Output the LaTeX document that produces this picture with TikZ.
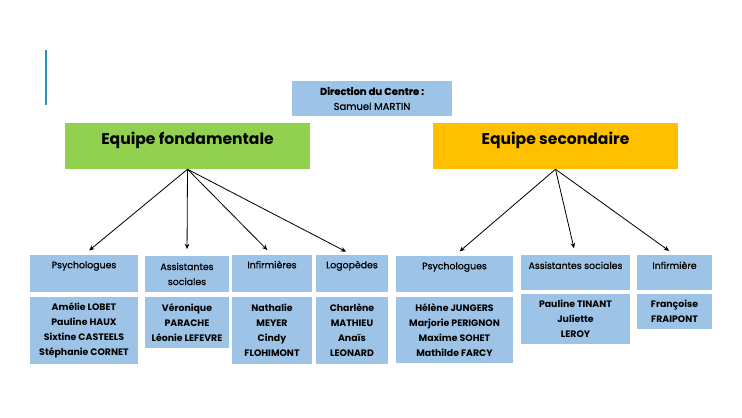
\documentclass[tikz,border=0pt]{standalone}
\usepackage{fontspec}
\setmainfont{Poppins}
\newfontfamily\medfont[FakeBold=0.6]{Poppins}
\usepackage{tikz}
\usetikzlibrary{arrows.meta,positioning}
\definecolor{orgblue}{HTML}{9DC3E6}
\definecolor{orggreen}{HTML}{92D050}
\definecolor{orggold}{HTML}{FFC000}
\definecolor{orgline}{HTML}{2C94C4}
\tikzset{
  cell/.style     = {fill=orgblue, align=center, inner xsep=1pt, inner ysep=1pt,
                     text=black},
  head/.style     = {cell, font=\fontsize{8}{12.8}\selectfont\medfont},
  names/.style    = {cell, font=\fontsize{8}{12.8}\selectfont\bfseries},
  direct/.style   = {cell, font=\fontsize{8.5}{12.8}\selectfont\medfont,
                     minimum width=4.8cm, minimum height=1.05cm},
  team/.style     = {align=center, inner sep=0pt, minimum width=7.35cm,
                     font=\fontsize{13.3}{15}\selectfont\bfseries,
                     text height=18.3pt, text depth=21pt},
  topbox/.style 2 args = {inner ysep=0pt, text height=#1, text depth=#2},
  %
  branch/.style   = {-{Stealth[length=1.6mm,width=1.4mm]}, draw=black,
                     line width=0.7pt, shorten >=0.2cm},
}

\begin{document}
\begin{tikzpicture}[x=0.03cm, y=-0.03cm]
  \useasboundingbox (0,0) rectangle (742,418);

  % ---------- slide accent --------------------------------------------
  \draw[orgline, line width=1.6pt] (46,50) -- (46,105);

  % ---------- direction and the two teams -----------------------------
  \node[direct] (dir) at (372,98.5)
    {\bfseries Direction du Centre :\\ Samuel MARTIN};
  \node[team, fill=orggreen] (fond) at (187.5,146) {Equipe fondamentale};
  \node[team, fill=orggold]  (sec)  at (555.5,146) {Equipe secondaire};

  % ---------- equipe fondamentale (headers y = 255..292) ---------------
  \node[head, minimum width=3.24cm, topbox={11.3pt}{20.3pt}] (psyA)
    at (84,273.5) {Psychologues};
  \node[head, minimum width=2.52cm, minimum height=1.08cm] (assA)
    at (187,274) {Assistantes\\ sociales};
  \node[head, minimum width=2.4cm, topbox={11.3pt}{20.3pt}] (infA)
    at (272,273.5) {Infirmières};
  \node[head, minimum width=2.16cm, topbox={11.3pt}{20.3pt}] (logA)
    at (352,273.5) {Logopèdes};

  \node[names, minimum width=3.24cm, minimum height=2.01cm] (psyAn)
    at (84,330.5)
    {Amélie LOBET\\ Pauline HAUX\\ Sixtine CASTEELS\\ Stéphanie CORNET};
  \node[names, minimum width=2.52cm, minimum height=1.53cm] (assAn)
    at (187,322.5) {Véronique\\ PARACHE\\ Léonie LEFEVRE};
  \node[names, minimum width=2.4cm, minimum height=2.01cm] (infAn)
    at (272,330.5) {Nathalie\\ MEYER\\ Cindy\\ FLOHIMONT};
  \node[names, minimum width=2.16cm, minimum height=2.01cm] (logAn)
    at (352,330.5) {Charlène\\ MATHIEU\\ Anaïs\\ LEONARD};

  % ---------- equipe secondaire ---------------------------------------
  \node[head, minimum width=3.51cm, topbox={11.3pt}{19.4pt}] (psyB)
    at (454.5,274) {Psychologues};
  \node[head, minimum width=3.27cm, topbox={11.9pt}{18pt}] (assB)
    at (575.5,272.5) {Assistantes sociales};
  \node[head, minimum width=2.25cm, topbox={11.9pt}{18pt}] (infB)
    at (674.5,272.5) {Infirmière};

  \node[names, minimum width=3.51cm, minimum height=1.98cm] (psyBn)
    at (454.5,330)
    {Hélène JUNGERS\\ Marjorie PERIGNON\\ Maxime SOHET\\ Mathilde FARCY};
  \node[names, minimum width=3.27cm, minimum height=1.5cm] (assBn)
    at (575.5,319) {Pauline TINANT\\ Juliette\\ LEROY};
  \node[names, minimum width=2.25cm, minimum height=1.05cm] (infBn)
    at (674.5,311.5) {Françoise\\ FRAIPONT};

  % ---------- branches ------------------------------------------------
  \foreach \t in {psyA,assA,infA,logA}
    \draw[branch] (fond.south) -- (\t.north);
  \foreach \t in {psyB,assB,infB}
    \draw[branch] (sec.south) -- (\t.north);

\end{tikzpicture}
\end{document}
